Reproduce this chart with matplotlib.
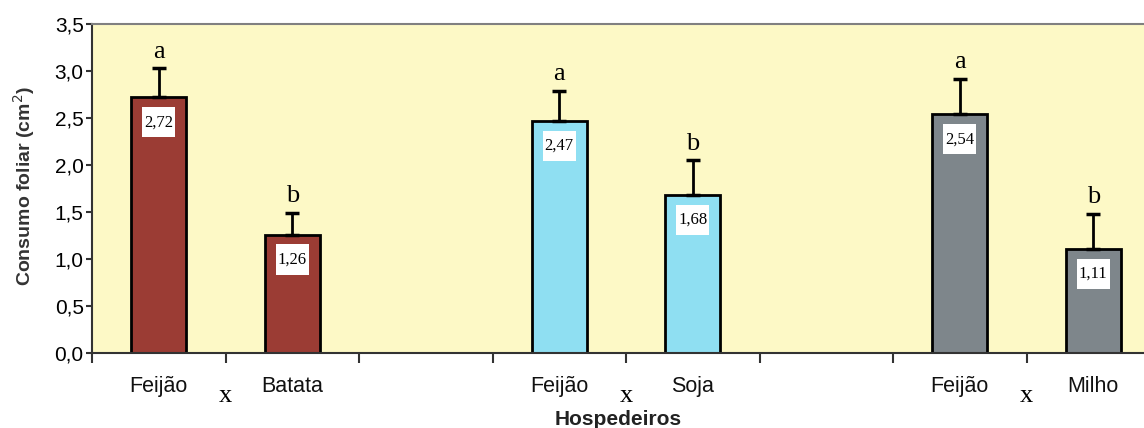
import numpy as np
import matplotlib
matplotlib.use("Agg")
import matplotlib.pyplot as plt
from matplotlib.patches import Rectangle

# Consumo foliar por hospedeiro (feijão contra cada cultura)
hospedeiros = ["Feijão", "Batata", "", "Feijão", "Soja", "", "Feijão", "Milho"]
consumo = [2.72, 1.26, None, 2.47, 1.68, None, 2.54, 1.11]
erro = [0.31, 0.23, None, 0.32, 0.37, None, 0.38, 0.37]
letras = ["a", "b", None, "a", "b", None, "a", "b"]
cores = ["#9b3c34", "#9b3c34", None, "#8fdff2", "#8fdff2", None, "#7e868b", "#7e868b"]

fig = plt.figure(figsize=(11.44, 4.28), dpi=100)
ax = fig.add_axes([92 / 1144, 1 - 353 / 428, 1 - 92 / 1144, 329 / 428])
ax.set_facecolor("#fdf9c6")

for i, v in enumerate(consumo):
    if v is None:
        continue
    ax.bar(i, v, width=0.41, color=cores[i], edgecolor="black", linewidth=2, zorder=2)
    ax.errorbar(i, v, yerr=[[0], [erro[i]]], fmt="none", ecolor="black",
                elinewidth=2, capsize=5, capthick=2.5, zorder=3)
    ax.text(i, v + erro[i] + 0.06, letras[i], ha="center", va="bottom",
            family="Liberation Serif", fontsize=19)
    # caixa branca com o valor da média
    ax.add_patch(Rectangle((i - 0.125, v - 0.265 - 0.16), 0.25, 0.32,
                           facecolor="white", edgecolor="none", zorder=4))
    ax.text(i, v - 0.265, ("%.2f" % v).replace(".", ","), ha="center", va="center",
            family="Liberation Serif", fontsize=12, zorder=5)

ax.set_ylim(0, 3.5)
ax.set_xticks(np.arange(-0.5, 7, 1.0))
ax.set_xlim(-0.5, -0.5 + (1144 - 92) / 133.5)
yt = np.arange(0, 3.51, 0.5)
ax.set_yticks(yt)
ax.set_yticklabels([("%.1f" % t).replace(".", ",") for t in yt],
                   family="Liberation Sans", fontsize=15)
ax.set_xticklabels([])
ax.tick_params(axis="x", length=7, width=1.5, color="#333333")
ax.tick_params(axis="y", length=4, width=1.5, color="#333333", pad=2)

for i, nome in enumerate(hospedeiros):
    if nome:
        ax.text(i, -0.415, nome, ha="center", va="baseline",
                family="Liberation Sans", fontsize=15.5, color="#111111")
for pos in [0.5, 3.5, 6.5]:
    ax.text(pos, -0.52, "x", ha="center", va="baseline", family="Liberation Serif",
            fontsize=19)

fig.text(24 / 1144, 0.565, "Consumo foliar (cm$^2$)", rotation=90, ha="center",
         va="center", family="Liberation Sans", fontsize=14, fontweight="bold",
         color="#333333")
fig.text(618 / 1144, 0.006, "Hospedeiros", ha="center", va="baseline",
         family="Liberation Sans", fontsize=15, fontweight="bold", color="#222222")

ax.spines["right"].set_visible(False)
ax.spines["top"].set_color("#808080")
ax.spines["top"].set_linewidth(1.5)
for s in ["left", "bottom"]:
    ax.spines[s].set_color("#333333")
    ax.spines[s].set_linewidth(1.5)

fig.savefig("out.png", dpi=100)
